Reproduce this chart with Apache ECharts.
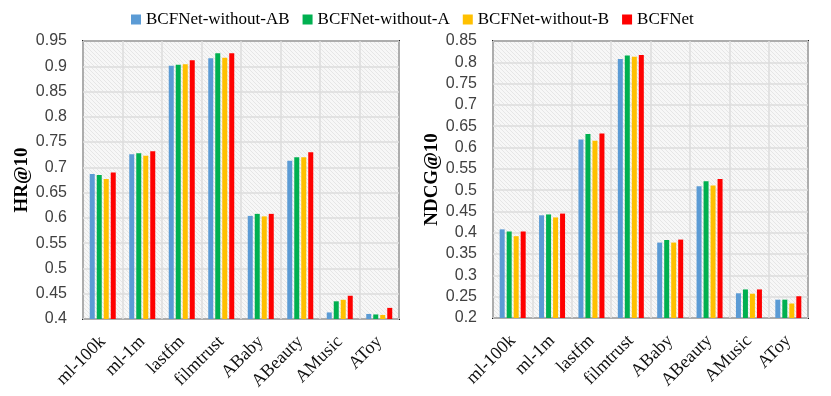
<!DOCTYPE html>
<html>
<head>
<meta charset="utf-8">
<script src="https://cdn.jsdelivr.net/npm/echarts@6/dist/echarts.min.js"></script>
<style>
  html, body { margin: 0; padding: 0; background: #fff; }
  #main { width: 831px; height: 396px; }
</style>
</head>
<body>
<div id="main"></div>
<script>
// 数据
var categories = ['ml-100k', 'ml-1m', 'lastfm', 'filmtrust', 'ABaby', 'ABeauty', 'AMusic', 'AToy'];
var seriesNames = ['BCFNet-without-AB', 'BCFNet-without-A', 'BCFNet-without-B', 'BCFNet'];
var colors = ['#5b9bd5', '#00b050', '#ffc000', '#ff0000'];

// HR@10
var hrNoAB = [0.687, 0.726, 0.901, 0.916, 0.604, 0.713, 0.413, 0.410];
var hrNoA  = [0.685, 0.728, 0.903, 0.926, 0.608, 0.720, 0.435, 0.409];
var hrNoB  = [0.677, 0.723, 0.904, 0.917, 0.603, 0.720, 0.438, 0.408];
var hrFull = [0.690, 0.732, 0.912, 0.926, 0.608, 0.730, 0.446, 0.422];

// NDCG@10
var ndNoAB = [0.408, 0.441, 0.619, 0.808, 0.377, 0.509, 0.258, 0.243];
var ndNoA  = [0.403, 0.443, 0.632, 0.816, 0.383, 0.521, 0.267, 0.243];
var ndNoB  = [0.392, 0.436, 0.616, 0.813, 0.377, 0.511, 0.257, 0.234];
var ndFull = [0.403, 0.445, 0.633, 0.817, 0.384, 0.526, 0.267, 0.251];

var hrData = [hrNoAB, hrNoA, hrNoB, hrFull];
var ndData = [ndNoAB, ndNoA, ndNoB, ndFull];

// 背景斜纹
var pat = document.createElement('canvas');
pat.width = 4;
pat.height = 4;
var pctx = pat.getContext('2d');
pctx.fillStyle = '#f7f7f7';
pctx.fillRect(0, 0, 4, 4);
pctx.fillStyle = '#e6e6e6';
for (var k = 0; k < 4; k++) {
    pctx.fillRect(k, k, 1, 1);
}

var myChart = echarts.init(document.getElementById('main'));

function xAxisOf(idx) {
    return {
        type: 'category',
        gridIndex: idx,
        data: categories,
        axisTick: { show: false },
        axisLine: { show: false },
        splitLine: { show: true, lineStyle: { color: '#dcdcdc', width: 1.5 } },
        axisLabel: {
            rotate: 45,
            interval: 0,
            margin: 20,
            color: '#111',
            fontFamily: 'Liberation Serif',
            fontSize: 18
        }
    };
}

function yAxisOf(idx, min, max, name) {
    return {
        type: 'value',
        gridIndex: idx,
        min: min,
        max: max,
        interval: 0.05,
        name: name,
        nameLocation: 'middle',
        nameGap: 49,
        nameTextStyle: {
            fontFamily: 'Liberation Serif',
            fontWeight: 'bold',
            fontSize: 19,
            color: '#000'
        },
        axisLine: { show: false },
        axisTick: { show: false },
        splitLine: { show: true, lineStyle: { color: '#dcdcdc', width: 1.5 } },
        axisLabel: {
            margin: 16,
            color: '#404040',
            fontFamily: 'Liberation Sans',
            fontSize: 16
        }
    };
}

var series = [];
for (var i = 0; i < seriesNames.length; i++) {
    series.push({
        name: seriesNames[i],
        type: 'bar',
        xAxisIndex: 0,
        yAxisIndex: 0,
        barWidth: 5,
        barGap: '40%',
        itemStyle: { color: colors[i] },
        data: hrData[i]
    });
    series.push({
        name: seriesNames[i],
        type: 'bar',
        xAxisIndex: 1,
        yAxisIndex: 1,
        barWidth: 5,
        barGap: '40%',
        itemStyle: { color: colors[i] },
        data: ndData[i]
    });
}

var bg = { image: pat, repeat: 'repeat' };

var option = {
    animation: false,
    color: colors,
    legend: {
        data: seriesNames,
        top: 6,
        left: 126,
        itemWidth: 10,
        itemHeight: 10,
        itemGap: 13,
        icon: 'rect',
        textStyle: {
            fontFamily: 'Liberation Serif',
            fontSize: 17,
            color: '#000'
        }
    },
    grid: [
        { left: 83, top: 41, width: 316, height: 278, show: true,
          backgroundColor: bg, borderColor: '#222', borderWidth: 2 },
        { left: 493, top: 41, width: 315, height: 277, show: true,
          backgroundColor: bg, borderColor: '#222', borderWidth: 2 }
    ],
    xAxis: [xAxisOf(0), xAxisOf(1)],
    yAxis: [yAxisOf(0, 0.4, 0.95, 'HR@10'), yAxisOf(1, 0.2, 0.85, 'NDCG@10')],
    series: series
};

myChart.setOption(option);
</script>
</body>
</html>
